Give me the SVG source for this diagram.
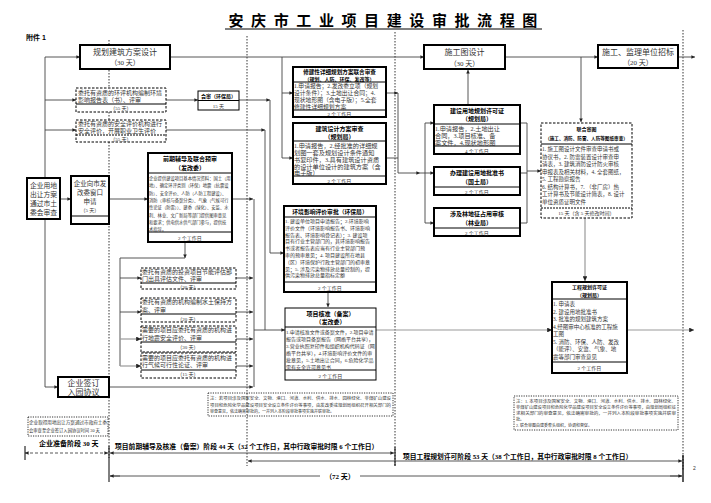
<svg xmlns="http://www.w3.org/2000/svg" width="711" height="503" viewBox="0 0 711 503">
<defs>
<marker id="ar" viewBox="0 0 6 6" refX="6" refY="3" markerWidth="4" markerHeight="4" orient="auto-start-reverse"><path d="M0,0L6,3L0,6z" fill="#222"/></marker>
<style>
text{font-family:"Liberation Serif","Noto Sans CJK SC",serif;fill:#333}
.t{font-weight:bold;fill:#000}
.c{text-anchor:middle}
.bx{fill:#fff;stroke:#000;stroke-width:1}
.tk{fill:#fff;stroke:#000;stroke-width:2}
.ds{fill:#fff;stroke:#000;stroke-width:1;stroke-dasharray:2.5,1.5}
.dt{fill:none;stroke:#000;stroke-width:0.8;stroke-dasharray:1.2,1.2}
.sep{stroke:#000;stroke-width:1}
.ln{fill:none;stroke:#444;stroke-width:0.9}
.lg{fill:none;stroke:#999;stroke-width:1.2}
.a{marker-end:url(#ar)}
.vd{stroke:#000;stroke-width:0.8;stroke-dasharray:1.5,1.5}
.b4{font-size:4.3px}
.b5{font-size:5px}
.b6{font-size:6px}
</style>
</defs>
<rect width="711" height="503" fill="#fff"/>
<text y="26" class="t c" style="font-size:15px" x="236 258.6 281.2 303.8 326.4 349 371.6 394.2 416.8 439.4 462 484.6 507.2 529.8">安庆市工业项目建设审批流程图</text>
<line x1="225" y1="29" x2="542" y2="29" stroke="#000" stroke-width="1"/>
<text x="26" y="40" class="t" style="font-size:7px;font-family:'Liberation Sans','Noto Sans CJK SC',sans-serif">附件 1</text>

<g id="phase-lines">
<line x1="109" y1="40" x2="109" y2="458" class="vd"/>
<line x1="247" y1="36" x2="247" y2="466" class="vd"/>
<line x1="395" y1="32" x2="395" y2="466" class="vd"/>
<line x1="683" y1="30" x2="683" y2="470" class="vd"/>
</g>

<g id="connectors">
<path d="M45,57V387" class="ln"/>
<path d="M45,57H80" class="ln a"/>
<path d="M170,57H424" class="ln a"/>
<path d="M505,57H598" class="ln a"/>
<path d="M678,57H695" class="ln a"/>
<path d="M45,100H76" class="ln a"/>
<path d="M45,130H76" class="ln a"/>
<path d="M166,100H198" class="ln a"/>
<path d="M239,100H270" class="ln a"/>
<path d="M166,130H265" class="ln a"/>
<path d="M270,100V253H284" class="ln a"/>
<path d="M265,130V330" class="ln"/>
<path d="M60,199H71" class="ln a"/>
<path d="M109,199H148" class="ln a"/>
<path d="M232,199H253" class="ln a"/>
<path d="M254,199V387" class="ln"/>
<path d="M254,330H285" class="ln a"/>
<path d="M185,242V258" class="ln a"/>
<path d="M185,258H120V366" class="ln"/>
<path d="M120,278H141" class="ln a"/>
<path d="M120,312H141" class="ln a"/>
<path d="M120,339H141" class="lg a"/>
<path d="M120,366H141" class="lg a"/>
<path d="M236,278H253" class="ln a"/>
<path d="M236,312H253" class="ln a"/>
<path d="M236,339H253" class="ln a"/>
<path d="M236,366H253" class="ln a"/>
<path d="M45,387H58" class="ln a"/>
<path d="M109,387H253" class="ln a"/>
<path d="M282,57V158" class="ln"/>
<path d="M282,93H293" class="ln a"/>
<path d="M282,158H293" class="ln a"/>
<path d="M386,93H398" class="ln a"/>
<path d="M386,158H398V173H420" class="ln a"/>
<path d="M398,93V158" class="ln"/>
<path d="M425,123V223" class="ln"/>
<path d="M420,173H434" class="ln a"/>
<path d="M425,123H434" class="ln a"/>
<path d="M425,223H434" class="ln a"/>
<path d="M468,105V70" class="ln a"/>
<path d="M520,123H527M520,173H527M520,223H527M527,123V223" class="ln"/>
<path d="M527,171H541" class="ln a"/>
<path d="M581,57V122" class="ln a"/>
<path d="M585,218V281" class="lg a"/>
<path d="M328,292V307" class="ln a"/>
<path d="M376,330H552" class="lg a"/>
<path d="M627,330H694" class="lg a"/>
</g>

<g id="n-plan"><rect x="80" y="45" width="90" height="24" class="tk"/>
<text x="125" y="55" class="c" style="font-size:8px">规划建筑方案设计</text><text x="125" y="65" class="c" style="font-size:7px">（30 天）</text></g>

<g id="n-envdesign"><rect x="76" y="88" width="90" height="24" class="ds"/><line x1="76" y1="104" x2="166" y2="104" class="sep"/>
<text x="78" y="95" class="b6">委托有资质的环评机构编制环境</text><text x="78" y="102" class="b6">影响报告表（书）、评审</text>
<text x="121" y="110" class="c b5">（55 天）</text></g>

<g id="n-safety"><rect x="76" y="120" width="90" height="22" class="ds"/><line x1="76" y1="135" x2="166" y2="135" class="sep" stroke-dasharray="2,1"/>
<text x="78" y="126" class="b6">委托有资质的安全评价机构进行</text><text x="78" y="133" class="b6">安全评价，开展职业卫生评价</text>
<text x="121" y="141" class="c b5">（55 天）</text></g>

<g id="n-huishen"><rect x="198" y="91" width="41" height="19" class="bx"/><line x1="198" y1="100.5" x2="239" y2="100.5" class="sep"/>
<text x="218.5" y="98" class="t c b5">会审（环保局）</text><text x="218.5" y="108" class="c b5">15 天</text></g>

<g id="n-land"><rect x="27" y="178" width="33" height="41" class="tk"/>
<text x="43.5" y="188" class="c" style="font-size:6.8px">企业用地</text><text x="43.5" y="197" class="c" style="font-size:6.8px">出让方案</text>
<text x="43.5" y="206" class="c" style="font-size:6.8px">通过市土</text><text x="43.5" y="215" class="c" style="font-size:6.8px">委会审查</text></g>

<g id="n-apply"><rect x="71" y="176" width="38" height="48" class="tk"/><line x1="71" y1="216" x2="109" y2="216" class="sep"/>
<text x="90" y="186" class="c" style="font-size:6.5px">企业向市发</text><text x="90" y="195" class="c" style="font-size:6.5px">改委窗口</text>
<text x="90" y="204" class="c" style="font-size:6.5px">申请</text><text x="90" y="212" class="c b5">（5 天）</text></g>

<g id="n-pre"><rect x="148" y="153" width="84" height="89" class="tk"/><line x1="148" y1="173" x2="232" y2="173" class="sep"/><line x1="148" y1="232" x2="232" y2="232" class="sep"/>
<text x="190" y="161" class="t c b6">前期辅导及联合预审</text><text x="190" y="170" class="t c b6">（发改委）</text>
<text class="b4"><tspan x="149" y="180">企业提供建设项目基本情况资料：国土（用</tspan><tspan x="149" y="187.3">地）、确定环评类别（环保）地震（抗震设</tspan><tspan x="149" y="194.6">防）、安全评价、人防（人防工程建设）、</tspan><tspan x="149" y="201.9">消防（审核与备案分类）、气象（气候可行</tspan><tspan x="149" y="209.2">性论证（防雷））、建委（绿化）、安监、水</tspan><tspan x="149" y="216.5">利、林业、文广新局等部门提供图审意见</tspan><tspan x="149" y="223.8">和要求；供电供水供气部门参与，提供技</tspan><tspan x="149" y="231">术指导。</tspan></text>
<text x="190" y="239.5" class="c b5">2 个工作日</text></g>

<g id="n-energy"><rect x="141" y="268" width="95" height="21" class="ds"/><line x1="141" y1="283" x2="236" y2="283" class="sep"/>
<text x="142" y="274" class="b6">委托有资质的投资项目节能评估部</text><text x="142" y="281" class="b6">门出具评估文件、评审</text><text x="188" y="288.5" class="c b5">（30 天）</text></g>

<g id="n-soil"><rect x="141" y="298" width="95" height="24" class="ds"/><line x1="141" y1="314" x2="236" y2="314" class="sep"/>
<text x="142" y="304" class="b6">委托有资质的机构编制水土保持方</text><text x="142" y="311.5" class="b6">案、评审</text><text x="188" y="320.5" class="c b5">（20 天）</text></g>

<g id="n-quake"><rect x="141" y="326" width="95" height="26" class="ds"/><line x1="141" y1="342" x2="236" y2="342" class="sep"/>
<text x="142" y="332" class="b6">需要的项目应委托有资质的机构进</text><text x="142" y="339.5" class="b6">行地震安全评价、评审</text><text x="188" y="349" class="c b5">（30 天）</text></g>

<g id="n-climate"><rect x="141" y="353" width="95" height="25" class="ds"/><line x1="141" y1="370" x2="236" y2="370" class="sep"/>
<text x="142" y="359.5" class="b6">需要的项目应委托有资质的机构进</text><text x="142" y="367" class="b6">行气候可行性论证、评审</text><text x="188" y="376" class="c b5">（15 天）</text></g>

<g id="n-sign"><rect x="58" y="377" width="51" height="20" class="tk"/>
<text x="83.5" y="386" class="c" style="font-size:8px">企业签订</text><text x="83.5" y="395" class="c" style="font-size:8px">入园协议</text></g>

<g id="n-note0"><rect x="28" y="417" width="80" height="19" class="dt"/>
<text x="29" y="424" class="b4" textLength="78" lengthAdjust="spacingAndGlyphs">企业取得用地出让方案通过市政府土委</text>
<text x="29" y="432" class="b4">会审查至企业签订入园协议时间 30 天</text></g>

<g id="n-xiujian"><rect x="293" y="67" width="93" height="50" class="tk"/><line x1="293" y1="82" x2="386" y2="82" class="sep"/><line x1="293" y1="110" x2="386" y2="110" class="sep"/>
<text x="339.5" y="74" class="t c" style="font-size:5.6px">修建性详细规划方案联合审查</text><text x="339.5" y="80.5" class="t c b5">（规划、人防、环保、发改等）</text>
<text style="font-size:5.8px"><tspan x="294" y="88">1.申请报告；2.发改委立项（规划</tspan><tspan x="294" y="95">设计条件）；3.土地出让合同；4.</tspan><tspan x="294" y="102">现状地形图（含电子版）；5.全套</tspan><tspan x="294" y="109">修建性详细规划方案</tspan></text>
<text x="339.5" y="116" class="c b5">2 个工作日</text></g>

<g id="n-archi"><rect x="293" y="123" width="93" height="61" class="tk"/><line x1="293" y1="141" x2="386" y2="141" class="sep"/><line x1="293" y1="176" x2="386" y2="176" class="sep"/>
<text x="339.5" y="131" class="t c b6">建筑设计方案审查</text><text x="339.5" y="139" class="t c b6">（规划局）</text>
<text style="font-size:6.2px"><tspan x="294" y="148">1.申请报告，2.经批准的详细规</tspan><tspan x="294" y="155">划图一套及规划设计条件通知</tspan><tspan x="294" y="162">书复印件，3.具有建筑设计资质</tspan><tspan x="294" y="169">的设计单位设计的建筑方案（含</tspan><tspan x="294" y="175">电子版）</tspan></text>
<text x="339.5" y="182.5" class="c b5">2 个工作日</text></g>

<g id="n-envapp"><rect x="284" y="206" width="92" height="86" class="tk"/><line x1="284" y1="217" x2="376" y2="217" class="sep"/><line x1="284" y1="282" x2="376" y2="282" class="sep"/>
<text x="330" y="214" class="t c" style="font-size:5.8px">环境影响评价审批（环保局）</text>
<text class="b5"><tspan x="285" y="223">1. 建设单位项目申请报告；2.环境影响</tspan><tspan x="285" y="229.8">评价文件（环境影响报告书、环境影响</tspan><tspan x="285" y="236.6">报告表、环境影响登记表）；3. 建设项</tspan><tspan x="285" y="243.4">目有行业主管部门的，其环境影响报告</tspan><tspan x="285" y="250.2">书或者报告表应当有行业主管部门预</tspan><tspan x="285" y="257">审的预审意见；4. 项目建设所在地县</tspan><tspan x="285" y="263.8">（区）环境保护行政主管部门的初审意</tspan><tspan x="285" y="270.6">见；5. 涉及污染物排放总量控制的，提</tspan><tspan x="285" y="277.4">供污染物排放总量指标定额</tspan></text>
<text x="330" y="289.5" class="c b5">2 个工作日</text></g>

<g id="n-approve"><rect x="285" y="308" width="91" height="72" class="bx" stroke-width="1.3"/><line x1="285" y1="327" x2="376" y2="327" class="sep"/><line x1="285" y1="370" x2="376" y2="370" class="sep"/>
<text x="330.5" y="316" class="t c b6">项目核准（备案）</text><text x="330.5" y="324" class="t c b6">（发改委）</text>
<text class="b5"><tspan x="286" y="334">1.申请核准文件或备案文件，2.项目申请</tspan><tspan x="286" y="341">报告或项目备案报告（网络平台共享），</tspan><tspan x="286" y="348">3.营业执照复印件和组织机构代码证（网</tspan><tspan x="286" y="355">络平台共享），4.环境影响评价文件的审</tspan><tspan x="286" y="362">批意见，5.土地出让合同，6.危险化学品</tspan><tspan x="286" y="368.5">需有安全许可意见书</tspan></text>
<text x="330.5" y="377.5" class="c b5">2 个工作日</text></g>

<g id="n-note1"><rect x="208" y="393" width="185" height="23" class="dt"/>
<text style="font-size:4px"><tspan x="210" y="400" textLength="181" lengthAdjust="spacingAndGlyphs">注：若项目涉及国家安全、文物、港口、河道、水利、供水、排水、园林绿化、非煤矿山建设</tspan><tspan x="210" y="406.5" textLength="181" lengthAdjust="spacingAndGlyphs">项目和危险化学品建设项目安全设立条件评价等事项，由发改委或规划局组织召开相关部门的</tspan><tspan x="210" y="413">审查意见，依法确需审批的，一并列入本阶段审批事项实施并联审批。</tspan></text></g>

<g id="n-sgt"><rect x="424" y="45" width="81" height="24" class="tk"/>
<text x="464.5" y="55" class="c" style="font-size:8px">施工图设计</text><text x="464.5" y="65.5" class="c" style="font-size:7px">（30 天）</text></g>

<g id="n-bid"><rect x="598" y="45" width="80" height="23" class="tk"/>
<text x="638" y="55" class="c" style="font-size:8px">施工、监理单位招标</text><text x="638" y="65" class="c" style="font-size:7px">（20 天）</text></g>

<g id="n-landplan"><rect x="434" y="105" width="86" height="49" class="tk"/><line x1="434" y1="124" x2="520" y2="124" class="sep"/><line x1="434" y1="146" x2="520" y2="146" class="sep"/>
<text x="477" y="112.5" class="t c b6">建设用地规划许可证</text><text x="477" y="121" class="t c b6">（规划局）</text>
<text style="font-size:6.2px"><tspan x="435" y="131">1.申请报告，2.土地出让</tspan><tspan x="435" y="138">合同，3.项目核准、备</tspan><tspan x="435" y="145">案文件，4.现状地形图</tspan></text>
<text x="477" y="152.5" class="c b5">4 个工作日</text></g>

<g id="n-landbook"><rect x="434" y="167" width="86" height="28" class="tk"/><line x1="434" y1="187" x2="520" y2="187" class="sep"/>
<text x="477" y="175" class="t c b6">办理建设用地批准书</text><text x="477" y="184" class="t c b6">（国土局）</text>
<text x="477" y="193.5" class="c b5">2 个工作日</text></g>

<g id="n-forest"><rect x="434" y="208" width="86" height="28" class="tk"/><line x1="434" y1="228" x2="520" y2="228" class="sep"/>
<text x="477" y="216" class="t c b6">涉及林地征占用审核</text><text x="477" y="225" class="t c b6">（林业局）</text>
<text x="477" y="234.5" class="c b5">2 个工作日</text></g>

<g id="n-joint"><rect x="541" y="123" width="91" height="95" class="ds"/><line x1="541" y1="144" x2="632" y2="144" class="sep"/><line x1="541" y1="208" x2="632" y2="208" class="sep" stroke-dasharray="2,1"/>
<text x="586.5" y="131" class="t c b5">联合审图</text><text x="586.5" y="140" class="t c" style="font-size:4.6px">（施工、消防、防雷、人防等图纸审查）</text>
<text style="font-size:5.5px"><tspan x="542" y="151">1. 施工图设计文件审查申请书或</tspan><tspan x="542" y="158.5">协议书，2. 防雷装置设计审查申</tspan><tspan x="542" y="166">请表，3. 建筑消防设计防火审核</tspan><tspan x="542" y="173.5">申报表及相关材料，4. 全套图纸，</tspan><tspan x="542" y="181">5. 工程勘察报告</tspan><tspan x="542" y="188.5">6. 结构计算书，7. （非厂房）热</tspan><tspan x="542" y="196">工计算书及节能设计简表，8. 设计</tspan><tspan x="542" y="203.5">单位资质证明文件</tspan></text>
<text x="586.5" y="215" class="c b5">15 天（含 5 天修改时间）</text></g>

<g id="n-projplan"><rect x="552" y="282" width="75" height="91" class="tk"/><line x1="552" y1="299" x2="627" y2="299" class="sep"/><line x1="552" y1="362" x2="627" y2="362" class="sep"/>
<text x="589.5" y="289" class="t c b5">工程规划许可证</text><text x="589.5" y="297" class="t c b5">（规划局）</text>
<text style="font-size:5.5px"><tspan x="553" y="306">1. 申请表</tspan><tspan x="553" y="313.5">2. 建设用地批准书</tspan><tspan x="553" y="321">3. 批准的规划建筑方案</tspan><tspan x="553" y="328.5">4.经图审中心核准的工程施</tspan><tspan x="553" y="336">工图</tspan><tspan x="553" y="343.5">5. 消防、环保、人防、发改</tspan><tspan x="553" y="351">（能评）、安监、气象、地</tspan><tspan x="553" y="358.5">震等部门审查意见</tspan></text>
<text x="589.5" y="369.5" class="c b5">2 个工作日</text></g>

<g id="n-note2"><rect x="514" y="396" width="164" height="34" class="dt"/>
<text style="font-size:4px"><tspan x="516" y="402.5" textLength="160" lengthAdjust="spacingAndGlyphs">注：1. 本项目涉及国家安全、文物、港口、河道、水利、供水、排水、园林绿化、</tspan><tspan x="516" y="408.5" textLength="160" lengthAdjust="spacingAndGlyphs">非煤矿山建设项目和危险化学品建设项目安全设立条件评价等事项，由规划局组织征</tspan><tspan x="516" y="414.5" textLength="160" lengthAdjust="spacingAndGlyphs">求相关部门的审查意见，依法确需审批的，一并列入本阶段审批事项实施并联审</tspan><tspan x="516" y="420.5">批。</tspan><tspan x="516" y="426.5">2. 联合审图由建委牵头组织，协调和督促。</tspan></text></g>

<g id="timeline">
<text x="39" y="446" class="t" style="font-size:7px">企业准备阶段 30 天</text>
<path d="M25,453H108" class="ln a" stroke-dasharray="3,2" stroke="#000" style="marker-start:url(#ar)"/>
<line x1="25" y1="446" x2="25" y2="460" stroke="#000"/>
<line x1="109" y1="446" x2="109" y2="482" stroke="#000"/>
<text x="115" y="449" class="t" style="font-size:6.8px">项目前期辅导及核准（备案）阶段 44 天（32 个工作日，其中行政审批时限 6 个工作日）</text>
<path d="M110,453H394" class="ln a" stroke="#000" style="marker-start:url(#ar)"/>
<line x1="395" y1="447" x2="395" y2="466" stroke="#000"/>
<text x="403" y="459" class="t" style="font-size:6.8px">项目工程规划许可阶段 53 天（38 个工作日，其中行政审批时限 8 个工作日）</text>
<path d="M248,461H682" class="ln a" stroke="#000" style="marker-start:url(#ar)"/>
<line x1="683" y1="455" x2="683" y2="482" stroke="#000" stroke-width="1.3"/>
<path d="M110,476H320M360,476H682" class="ln" stroke="#000"/>
<path d="M120,476H110" class="ln a" stroke="#000"/>
<path d="M670,476H682" class="ln a" stroke="#000"/>
<text x="340" y="479" class="t c" style="font-size:7px">（72 天）</text>
<text x="693" y="470" style="font-size:5px;font-family:'Liberation Sans',sans-serif">2</text>
</g>
</svg>
